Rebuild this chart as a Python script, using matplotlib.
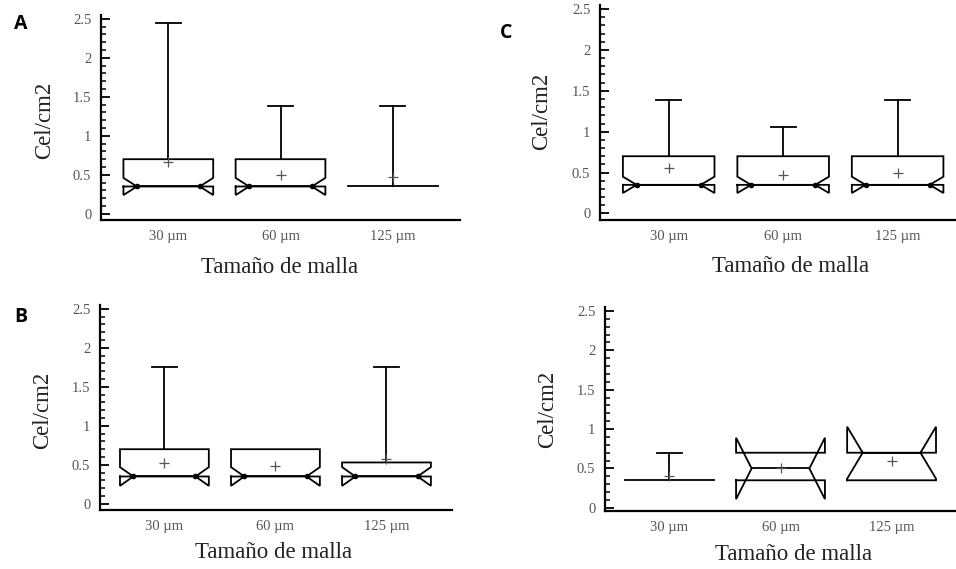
import matplotlib
matplotlib.use("Agg")
import matplotlib.pyplot as plt
import numpy as np

W, H = 956, 569

categories = ["30 µm", "60 µm", "125 µm"]

# Panel A
A_q1 = [0.35, 0.35, 0.35]
A_med = [0.35, 0.35, 0.35]
A_q3 = [0.70, 0.70, 0.35]
A_min = [0.35, 0.35, 0.35]
A_max = [2.45, 1.38, 1.38]
A_mean = [0.67, 0.50, 0.47]
A_notch = [0.11, 0.11, 0.0]

# Panel B
B_q1 = [0.35, 0.35, 0.35]
B_med = [0.35, 0.35, 0.35]
B_q3 = [0.70, 0.70, 0.53]
B_min = [0.35, 0.35, 0.35]
B_max = [1.75, 0.70, 1.75]
B_mean = [0.52, 0.49, 0.57]
B_notch = [0.12, 0.12, 0.12]

# Panel C
C_q1 = [0.35, 0.35, 0.35]
C_med = [0.35, 0.35, 0.35]
C_q3 = [0.70, 0.70, 0.70]
C_min = [0.35, 0.35, 0.35]
C_max = [1.39, 1.06, 1.39]
C_mean = [0.55, 0.47, 0.50]
C_notch = [0.10, 0.10, 0.10]

# Panel D (unlabelled)
D_q1 = [0.35, 0.35, 0.35]
D_med = [0.35, 0.50, 0.70]
D_q3 = [0.35, 0.70, 0.70]
D_min = [0.35, 0.35, 0.35]
D_max = [0.70, 0.70, 0.70]
D_mean = [0.41, 0.51, 0.59]
D_notch = [0.0, 0.39, 0.33]

yticks = [0, 0.5, 1, 1.5, 2, 2.5]
ytick_labels = ["0", "0.5", "1", "1.5", "2", "2.5"]
ylabel = "Cel/cm2"
xlabel = "Tamaño de malla"

SERIF = ["Liberation Serif", "DejaVu Serif"]
fig = plt.figure(figsize=(W / 100, H / 100), dpi=100)


def px_axes(l, r, b, t):
    return fig.add_axes([l / W, 1 - b / H, (r - l) / W, (b - t) / H])


def draw_panel(box, xlim, ylim, q1, med, q3, mn, mx, mean, notch, inset, dots):
    ax = px_axes(*box)
    half = 0.40
    cap = 0.11
    lw = 1.3
    for i in range(len(categories)):
        x = i + 1
        L, R = x - half, x + half
        n = notch[i]
        if n > 0:
            xs = [L, L, L + inset, L, L, R, R, R - inset, R, R, L]
            ys = [q1[i], med[i] - n, med[i], med[i] + n, q3[i], q3[i],
                  med[i] + n, med[i], med[i] - n, q1[i], q1[i]]
            ax.plot(xs, ys, color="black", lw=lw, solid_joinstyle="miter")
            ax.plot([L + inset, R - inset], [med[i], med[i]], color="black", lw=lw)
            if dots:
                ax.plot([L + inset, R - inset], [med[i], med[i]], "o",
                        color="black", ms=3)
        else:
            if q3[i] > q1[i]:
                ax.plot([L, L, R, R, L], [q1[i], q3[i], q3[i], q1[i], q1[i]],
                        color="black", lw=lw)
            ax.plot([L, R], [med[i], med[i]], color="black", lw=lw)
        if mx[i] > q3[i]:
            ax.plot([x, x], [q3[i], mx[i]], color="black", lw=lw)
            ax.plot([x - cap, x + cap], [mx[i], mx[i]], color="black", lw=lw)
        if mn[i] < q1[i]:
            ax.plot([x, x], [mn[i], q1[i]], color="black", lw=lw)
            ax.plot([x - cap, x + cap], [mn[i], mn[i]], color="black", lw=lw)
        ax.plot([x], [mean[i]], marker="+", color="#555555", ms=7.5, mew=0.9)

    ax.set_xlim(*xlim)
    ax.set_ylim(*ylim)
    for s in ["top", "right"]:
        ax.spines[s].set_visible(False)
    for s in ["left", "bottom"]:
        ax.spines[s].set_linewidth(1.6)
    ax.set_xticks([1, 2, 3])
    ax.set_xticklabels(categories, fontfamily=SERIF, fontsize=10.5, color="#555555")
    ax.tick_params(axis="x", length=0, pad=7)
    ax.set_yticks(yticks)
    ax.set_yticklabels(ytick_labels, fontfamily=SERIF, fontsize=10.5, color="#555555")
    ax.set_yticks(np.arange(0, 2.55, 0.1), minor=True)
    ax.tick_params(axis="y", which="major", direction="in", length=6.5, width=1.3, pad=7)
    ax.tick_params(axis="y", which="minor", direction="in", length=3.5, width=1.1)
    ax.set_facecolor("none")
    return ax


draw_panel((101, 460, 220, 15), (0.4, 3.6), (-0.08, 2.55),
           A_q1, A_med, A_q3, A_min, A_max, A_mean, A_notch, 0.12, True)
draw_panel((600, 956, 220, 5), (0.4, 3.51), (-0.08, 2.55),
           C_q1, C_med, C_q3, C_min, C_max, C_mean, C_notch, 0.12, True)
draw_panel((100, 452, 510, 305), (0.42, 3.59), (-0.08, 2.55),
           B_q1, B_med, B_q3, B_min, B_max, B_mean, B_notch, 0.12, True)
draw_panel((605, 956, 511, 307), (0.42, 3.58), (-0.04, 2.55),
           D_q1, D_med, D_q3, D_min, D_max, D_mean, D_notch, 0.14, False)


def ftext(x, y, s, **kw):
    fig.text(x / W, 1 - y / H, s, ha="center", va="center", **kw)


# y labels
for (x, y) in [(45, 120), (542, 111), (43, 410), (548, 409)]:
    ftext(x, y, ylabel, rotation=90, fontfamily=SERIF, fontsize=16.5, color="#222222")
# x labels
for (x, y) in [(280, 267), (791, 266), (274, 553), (794, 555)]:
    ftext(x, y, xlabel, fontfamily=SERIF, fontsize=16.5, color="#222222")
# panel letters
for (x, y, s) in [(21, 24, "A"), (506, 33, "C"), (21, 317, "B")]:
    ftext(x, y, s, fontfamily=["Open Sans", "DejaVu Sans"], fontweight="bold",
          fontsize=14, color="black")

fig.savefig("out.png", dpi=100)
